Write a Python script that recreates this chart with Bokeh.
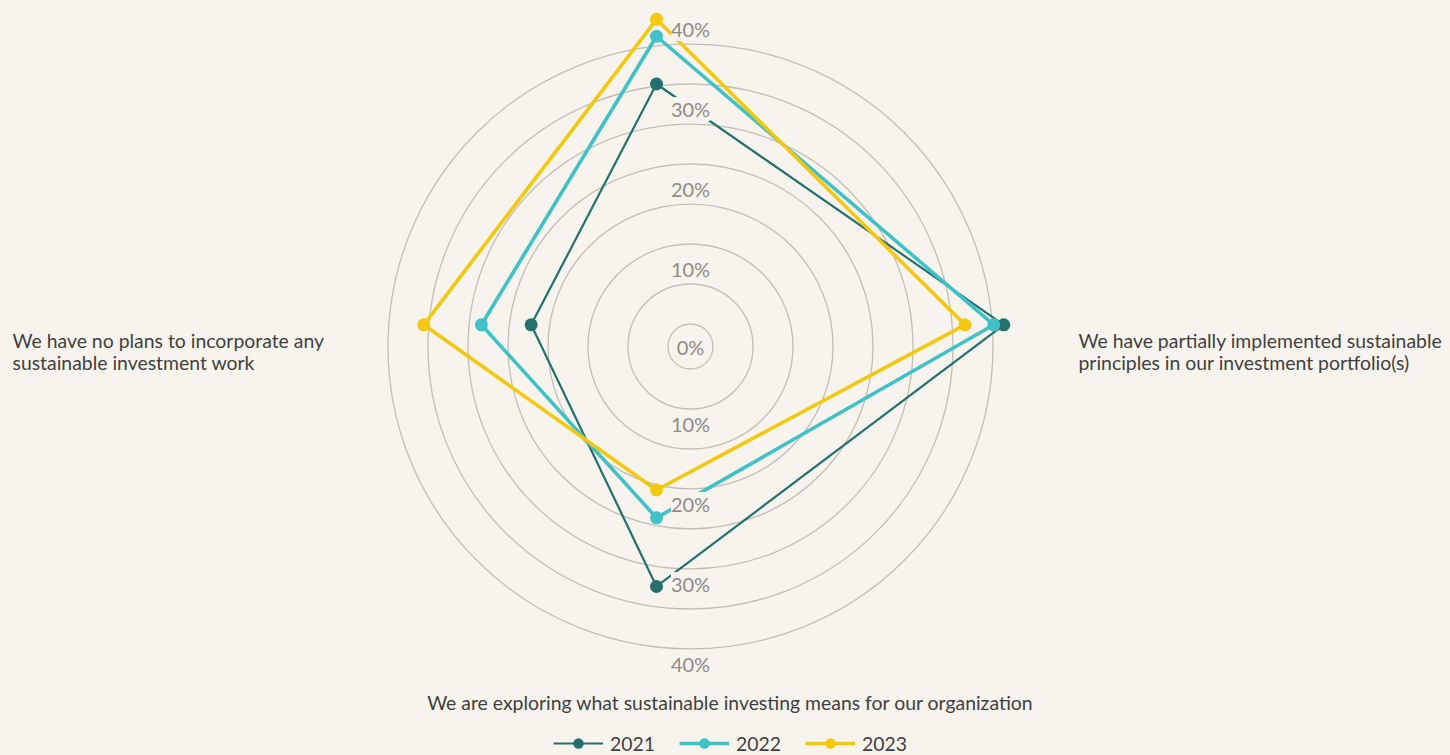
import math
from bokeh.plotting import figure
from bokeh.models import Range1d, Label, Legend, LegendItem
from bokeh.embed import file_html
from bokeh.resources import INLINE

# ---------------- data ----------------
# axes clockwise from the top; the top axis carries no visible label
categories = [
    "",
    "We have partially implemented sustainable\nprinciples in our investment portfolio(s)",
    "We are exploring what sustainable investing means for our organization",
    "We have no plans to incorporate any\nsustainable investment work",
]
years = ["2021", "2022", "2023"]
values_2021 = [24.2, 34.9, 26.3, 12.6]
values_2022 = [29.0, 33.9, 19.4, 17.6]
values_2023 = [30.7, 31.0, 16.6, 23.4]
ring_values = [5, 10, 15, 20, 25, 30, 35, 40]
tick_values = [10, 20, 30, 40]
tick_labels = ["10%", "20%", "30%", "40%"]
center_label = "0%"

# ---------------- layout / style ----------------
W, H = 1450, 755
GX, GY = 690, 346            # grid centre in screen px
BG = "#F7F4ED"
FONT = "Lato"
RING_PX = 8.0                # ring px per percent
RING_OFF = -17.5
LABEL_OFF = 15.0
DATA_DX, DATA_DY = -34.0, 21.7   # data origin offset vs grid centre
DATA_PX = 9.95               # data px per percent
ANGLES = [90, 0, -90, 180]
COLORS = ["#23706E", "#40C1C7", "#F4C710"]
LWIDTH = [2.2, 3.6, 3.6]

p = figure(width=W, height=H, output_backend="svg", toolbar_location=None,
           x_range=Range1d(-GX, W - GX), y_range=Range1d(GY - H, GY),
           min_border=0, outline_line_color=None,
           background_fill_color=BG, border_fill_color=BG)
p.axis.visible = False
p.grid.visible = False

# rings
radii = [RING_PX * v + RING_OFF for v in ring_values]
p.circle(x=[0] * len(radii), y=[0] * len(radii), radius=radii,
         fill_color=None, line_color="#C3BEB6", line_width=1.3)

# series
series = [values_2021, values_2022, values_2023]
items = []
for name, vals, col, lw in zip(years, series, COLORS, LWIDTH):
    xs = [DATA_DX + DATA_PX * v * math.cos(math.radians(a)) for v, a in zip(vals, ANGLES)]
    ys = [DATA_DY + DATA_PX * v * math.sin(math.radians(a)) for v, a in zip(vals, ANGLES)]
    ln = p.line(xs + xs[:1], ys + ys[:1], line_color=col, line_width=lw, line_join="round")
    sc = p.scatter(xs, ys, size=13, fill_color=col, line_color=col, line_width=0)
    items.append(LegendItem(label=name, renderers=[ln, sc]))

# radial tick labels (with background boxes hiding lines behind them)
def tick(text, y):
    p.add_layout(Label(x=0, y=y, text=text, text_align="center", text_baseline="middle",
                       text_font=FONT, text_font_size="20px", text_color="#8F8B85",
                       background_fill_color=BG, background_fill_alpha=1.0))

tick(center_label, 0)
for v, t in zip(tick_values, tick_labels):
    r = RING_PX * v + RING_OFF + LABEL_OFF
    tick(t, r)
    tick(t, -r)

# category labels
CAT_STYLE = dict(text_font=FONT, text_font_size="19.4px", text_color="#3F3F3F",
                 text_line_height=0.95)
p.add_layout(Label(x=1078 - GX, y=GY - 351, text=categories[1], text_align="left",
                   text_baseline="middle", **CAT_STYLE))
p.add_layout(Label(x=730 - GX, y=GY - 702, text=categories[2], text_align="center",
                   text_baseline="middle", **CAT_STYLE))
p.add_layout(Label(x=12 - GX, y=GY - 351, text=categories[3], text_align="left",
                   text_baseline="middle", **CAT_STYLE))

legend = Legend(items=items, orientation="horizontal", location=(553, -1),
                glyph_width=50, glyph_height=26, label_standoff=7, spacing=24,
                padding=0, margin=0, border_line_color=None, background_fill_alpha=0,
                label_text_font=FONT, label_text_font_size="19.4px",
                label_text_color="#3F3F3F")
p.add_layout(legend, "center")

html = file_html(p, INLINE)
style = ("<style>html,body{margin:0 !important;padding:0 !important;"
         "background:%s !important;overflow:hidden !important}</style>" % BG)
html = html.replace("</head>", style + "</head>", 1)
open("out.html", "w").write(html)
